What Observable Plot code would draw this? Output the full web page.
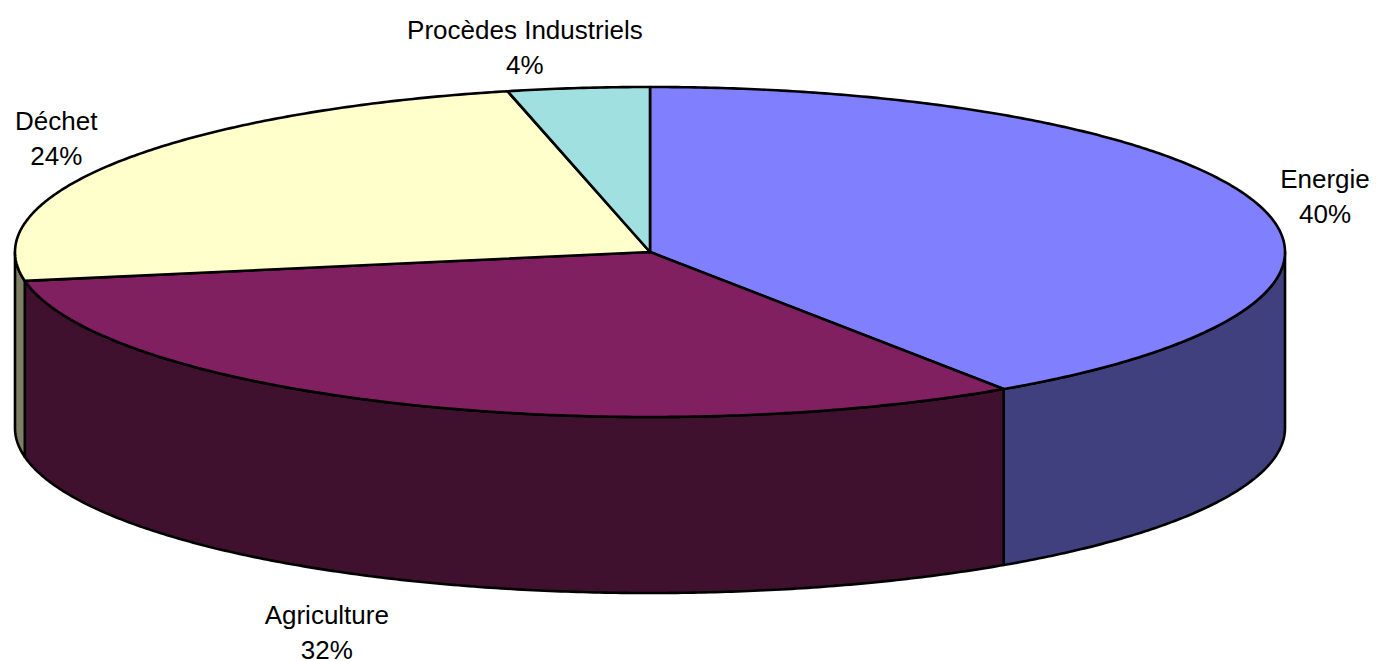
<!DOCTYPE html>
<html>
<head>
<meta charset="utf-8">
<script src="https://cdn.jsdelivr.net/npm/d3@7"></script>
<script src="https://cdn.jsdelivr.net/npm/@observablehq/plot@0.6"></script>
<style>html,body{margin:0;padding:0;background:#fff}svg{display:block}</style>
</head>
<body>
<div id="chart"></div>
<script>
// Data
const categories = ["Energie", "Agriculture", "Déchet", "Procèdes Industriels"];
const shares = [40.6, 31.6, 24.2, 3.6];       // slice sizes
const shareLabels = ["40%", "32%", "24%", "4%"]; // printed labels
const topColors = ["#8080ff", "#802060", "#ffffcc", "#a0e0e0"];
const sideColors = ["#40407f", "#40102f", "#7f7f66", "#507070"];
// Label anchors, in pie units (1 = rim of the top ellipse)
const labelX = [1.063, -0.509, -0.935, -0.197];
const labelY = [0.350, -2.291, 0.701, 1.253];
const depth = 176 / 165;

const total = d3.sum(shares);
const bounds = [];
shares.reduce((acc, v) => { bounds.push([acc, acc + v / total * 360]); return acc + v / total * 360; }, 0);

const pt = (deg, dy = 0) => {
  const t = deg * Math.PI / 180;
  return {x: Math.sin(t), y: Math.cos(t) - dy};
};
const arc = ([a, b], dy = 0) => {
  const n = Math.max(2, Math.ceil((b - a) * 2));
  return d3.range(n + 1).map(i => pt(a + (b - a) * i / n, dy));
};

const walls = [];
const tops = [];
categories.forEach((c, i) => {
  const [a, b] = bounds[i];
  const lo = Math.max(a, 90), hi = Math.min(b, 270);
  if (hi > lo) {
    const ring = [...arc([lo, hi]), ...arc([lo, hi], depth).reverse()];
    ring.push(ring[0]);
    ring.forEach(p => walls.push({...p, key: c, color: sideColors[i]}));
  }
  const slice = [{x: 0, y: 0}, ...arc([a, b]), {x: 0, y: 0}];
  slice.forEach(p => tops.push({...p, key: c, color: topColors[i]}));
});

const labels = categories.map((c, i) => ({
  text: c + "\n" + shareLabels[i], x: labelX[i], y: labelY[i]
}));

const chart = Plot.plot({
  width: 1378,
  height: 661,
  margin: 0,
  style: {background: "#fff", fontFamily: "'Liberation Sans', Arial, sans-serif"},
  x: {domain: [-1, 1], range: [14.5, 1284.5], axis: null},
  y: {domain: [-1, 1], range: [416.5, 86.5], axis: null},
  marks: [
    Plot.line(walls, {x: "x", y: "y", z: "key", fill: "color", stroke: "#000", strokeWidth: 2.6, curve: "linear"}),
    Plot.line(tops, {x: "x", y: "y", z: "key", fill: "color", stroke: "#000", strokeWidth: 2.6, curve: "linear"}),
    Plot.text(labels, {x: "x", y: "y", text: "text", fontSize: 26, lineHeight: 1.346, fill: "#000", textAnchor: "middle"})
  ]
});
document.getElementById("chart").appendChild(chart);
</script>
</body>
</html>
